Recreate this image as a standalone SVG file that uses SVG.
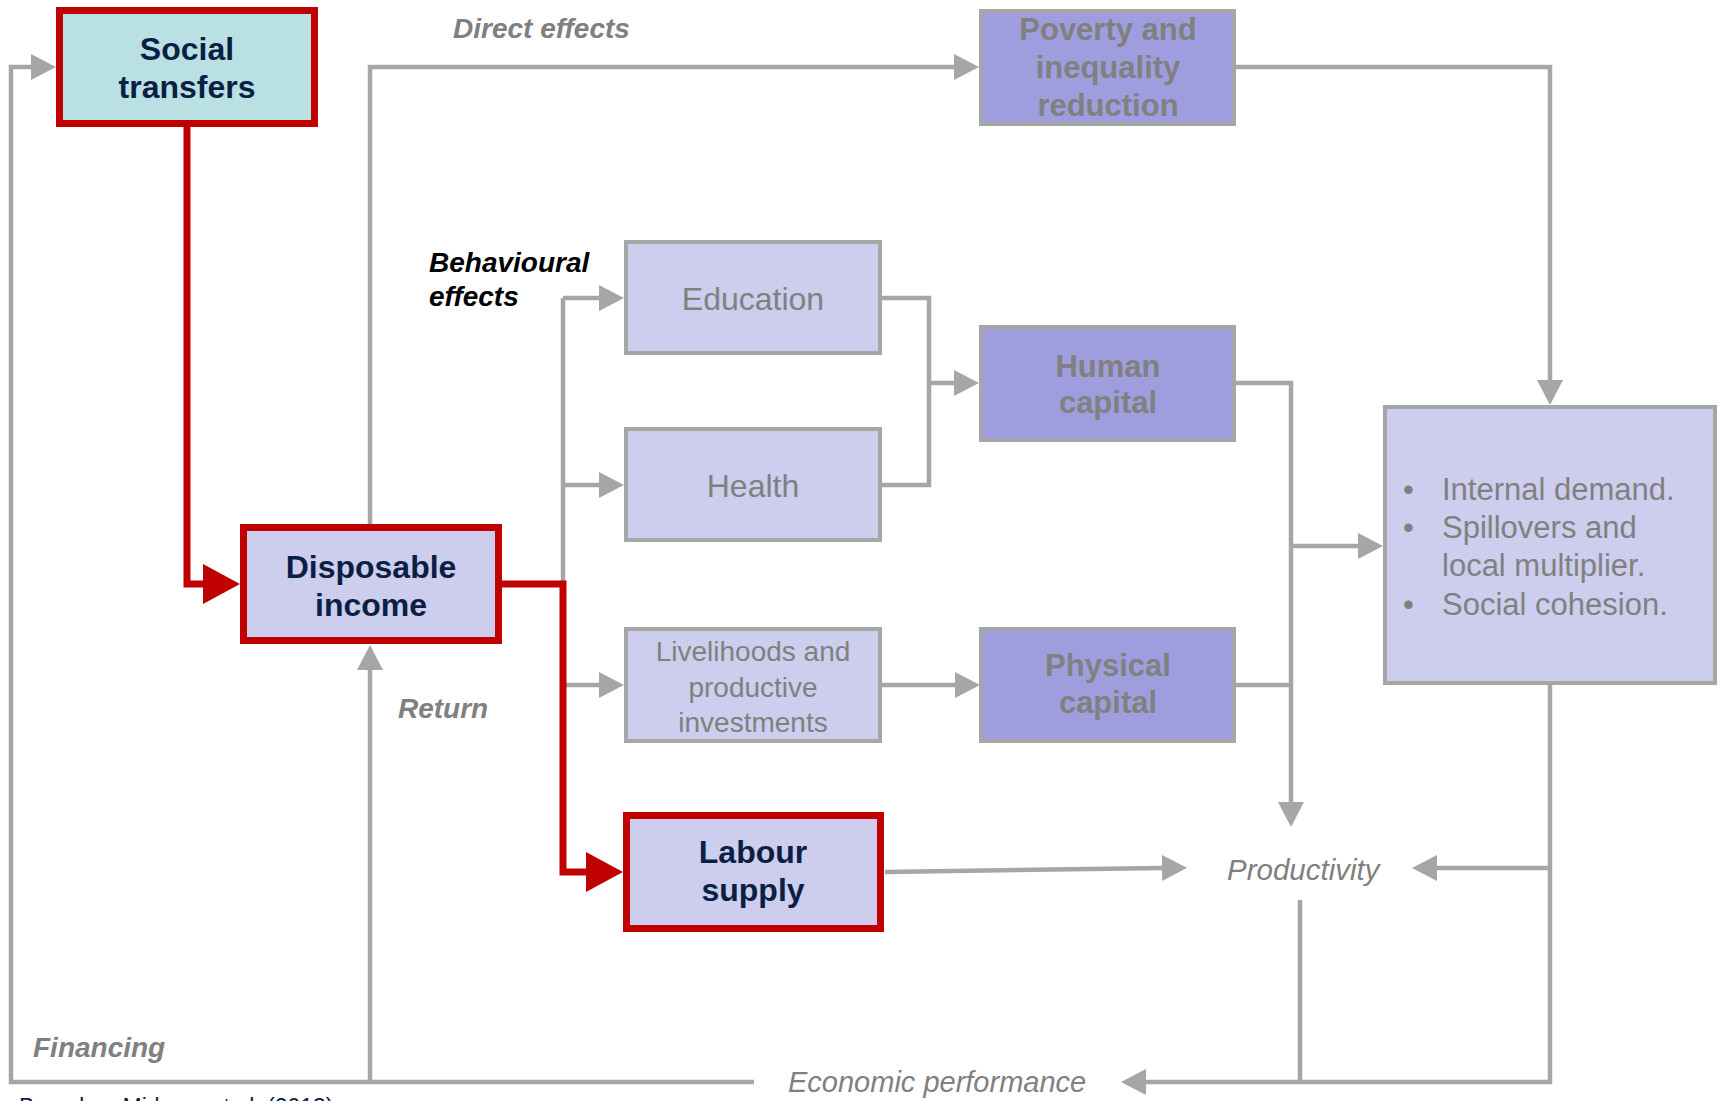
<svg xmlns="http://www.w3.org/2000/svg" width="1723" height="1101" viewBox="0 0 1723 1101">
<style>
text{font-family:"Liberation Sans",Arial,sans-serif}
.g{fill:none;stroke:#A6A6A6;stroke-width:4.5;stroke-linejoin:miter}
.r{fill:none;stroke:#C00000;stroke-width:7;stroke-linejoin:miter}
.red{stroke:#C00000;stroke-width:7}
.light{fill:#CDCDEE;stroke:#A6A6A6;stroke-width:4}
.dark{fill:#9E9EDE;stroke:#A6A6A6;stroke-width:4}
.tb{font-weight:bold;font-size:32px;fill:#0B1F45;text-anchor:middle}
.tg{font-weight:bold;font-size:31px;fill:#808080;text-anchor:middle}
.tn{font-size:32px;fill:#808080;text-anchor:middle}
.ts{font-size:28px;fill:#808080;text-anchor:middle}
.lb{font-weight:bold;font-style:italic;font-size:28px;fill:#808080}
.li{font-style:italic;font-size:29.5px;fill:#808080}
.bl{font-size:31px;fill:#808080}
</style>
<defs>
<marker id="ag" markerUnits="userSpaceOnUse" viewBox="0 0 26 26" markerWidth="26" markerHeight="26" refX="1" refY="13" orient="auto"><path d="M0,0 L25,13 L0,26 Z" fill="#A6A6A6"/></marker>
<marker id="ar" markerUnits="userSpaceOnUse" viewBox="0 0 38 40" markerWidth="38" markerHeight="40" refX="1" refY="20" orient="auto"><path d="M0,0 L37,20 L0,40 Z" fill="#C00000"/></marker>
</defs>
<rect width="1723" height="1101" fill="#FFFFFF"/>
<g id="connectors">
<path class="g" d="M370,524 V67 H955" marker-end="url(#ag)"/>
<path class="g" d="M1236,67 H1550 V381" marker-end="url(#ag)"/>
<path class="g" d="M563,298 V685"/>
<path class="g" d="M563,298 H600" marker-end="url(#ag)"/>
<path class="g" d="M563,485 H600" marker-end="url(#ag)"/>
<path class="g" d="M563,685 H600" marker-end="url(#ag)"/>
<path class="g" d="M882,298 H929 V485 H882"/>
<path class="g" d="M929,383 H955" marker-end="url(#ag)"/>
<path class="g" d="M882,685 H956" marker-end="url(#ag)"/>
<path class="g" d="M1236,383 H1291 V803" marker-end="url(#ag)"/>
<path class="g" d="M1236,685 H1291"/>
<path class="g" d="M1291,546 H1359" marker-end="url(#ag)"/>
<path class="g" d="M885,872 L1163,868" marker-end="url(#ag)"/>
<path class="g" d="M1550,684 V1082 H1145" marker-end="url(#ag)"/>
<path class="g" d="M1550,868 H1436" marker-end="url(#ag)"/>
<path class="g" d="M1300,900 V1082"/>
<path class="g" d="M754,1082 H11 V67 H32" marker-end="url(#ag)"/>
<path class="g" d="M370,1082 V669" marker-end="url(#ag)"/>
<path class="r" d="M187,127 V584 H204" marker-end="url(#ar)"/>
<path class="r" d="M502,584 H563 V872 H587" marker-end="url(#ar)"/>
</g>
<g id="labels">
<text class="lb" x="453" y="38">Direct effects</text>
<text class="lb" x="429" y="272" fill="#000000" style="fill:#000000">Behavioural</text>
<text class="lb" x="429" y="306" style="fill:#000000">effects</text>
<text class="lb" x="398" y="718">Return</text>
<text class="lb" x="33" y="1057">Financing</text>
<text class="li" x="1227" y="880">Productivity</text>
<text class="li" x="788" y="1092" style="font-size:29px">Economic performance</text>
<text x="19" y="1115" style="font-size:23px;fill:#0B1F45">Based on Mideros et al. (2013)</text>
</g>
<g id="social-transfers">
<rect x="59.5" y="10.5" width="255" height="113" fill="#B9E0E2" class="red"/>
<text class="tb" x="187" y="60">Social</text>
<text class="tb" x="187" y="98">transfers</text>
</g>
<g id="disposable-income">
<rect x="243.5" y="527.5" width="255" height="113" fill="#CDCDEE" class="red"/>
<text class="tb" x="371" y="578">Disposable</text>
<text class="tb" x="371" y="616">income</text>
</g>
<g id="labour-supply">
<rect x="626.5" y="815.5" width="254" height="113" fill="#CDCDEE" class="red"/>
<text class="tb" x="753" y="863">Labour</text>
<text class="tb" x="753" y="901">supply</text>
</g>
<g id="education">
<rect class="light" x="626" y="242" width="254" height="111"/>
<text class="tn" x="753" y="310">Education</text>
</g>
<g id="health">
<rect class="light" x="626" y="429" width="254" height="111"/>
<text class="tn" x="753" y="497">Health</text>
</g>
<g id="livelihoods">
<rect class="light" x="626" y="629" width="254" height="112"/>
<text class="ts" x="753" y="661">Livelihoods and</text>
<text class="ts" x="753" y="697">productive</text>
<text class="ts" x="753" y="732">investments</text>
</g>
<g id="poverty">
<rect class="dark" x="981" y="11" width="253" height="113"/>
<text class="tg" x="1108" y="40">Poverty and</text>
<text class="tg" x="1108" y="78">inequality</text>
<text class="tg" x="1108" y="116">reduction</text>
</g>
<g id="human-capital">
<rect class="dark" x="981" y="327" width="253" height="113"/>
<text class="tg" x="1108" y="377">Human</text>
<text class="tg" x="1108" y="413">capital</text>
</g>
<g id="physical-capital">
<rect class="dark" x="981" y="629" width="253" height="112"/>
<text class="tg" x="1108" y="676">Physical</text>
<text class="tg" x="1108" y="713">capital</text>
</g>
<g id="effects">
<rect class="light" x="1385" y="407" width="330" height="276"/>
<text class="bl" x="1403" y="500">•</text>
<text class="bl" x="1442" y="500">Internal demand.</text>
<text class="bl" x="1403" y="538">•</text>
<text class="bl" x="1442" y="538">Spillovers and</text>
<text class="bl" x="1442" y="576">local multiplier.</text>
<text class="bl" x="1403" y="615">•</text>
<text class="bl" x="1442" y="615">Social cohesion.</text>
</g>
</svg>
